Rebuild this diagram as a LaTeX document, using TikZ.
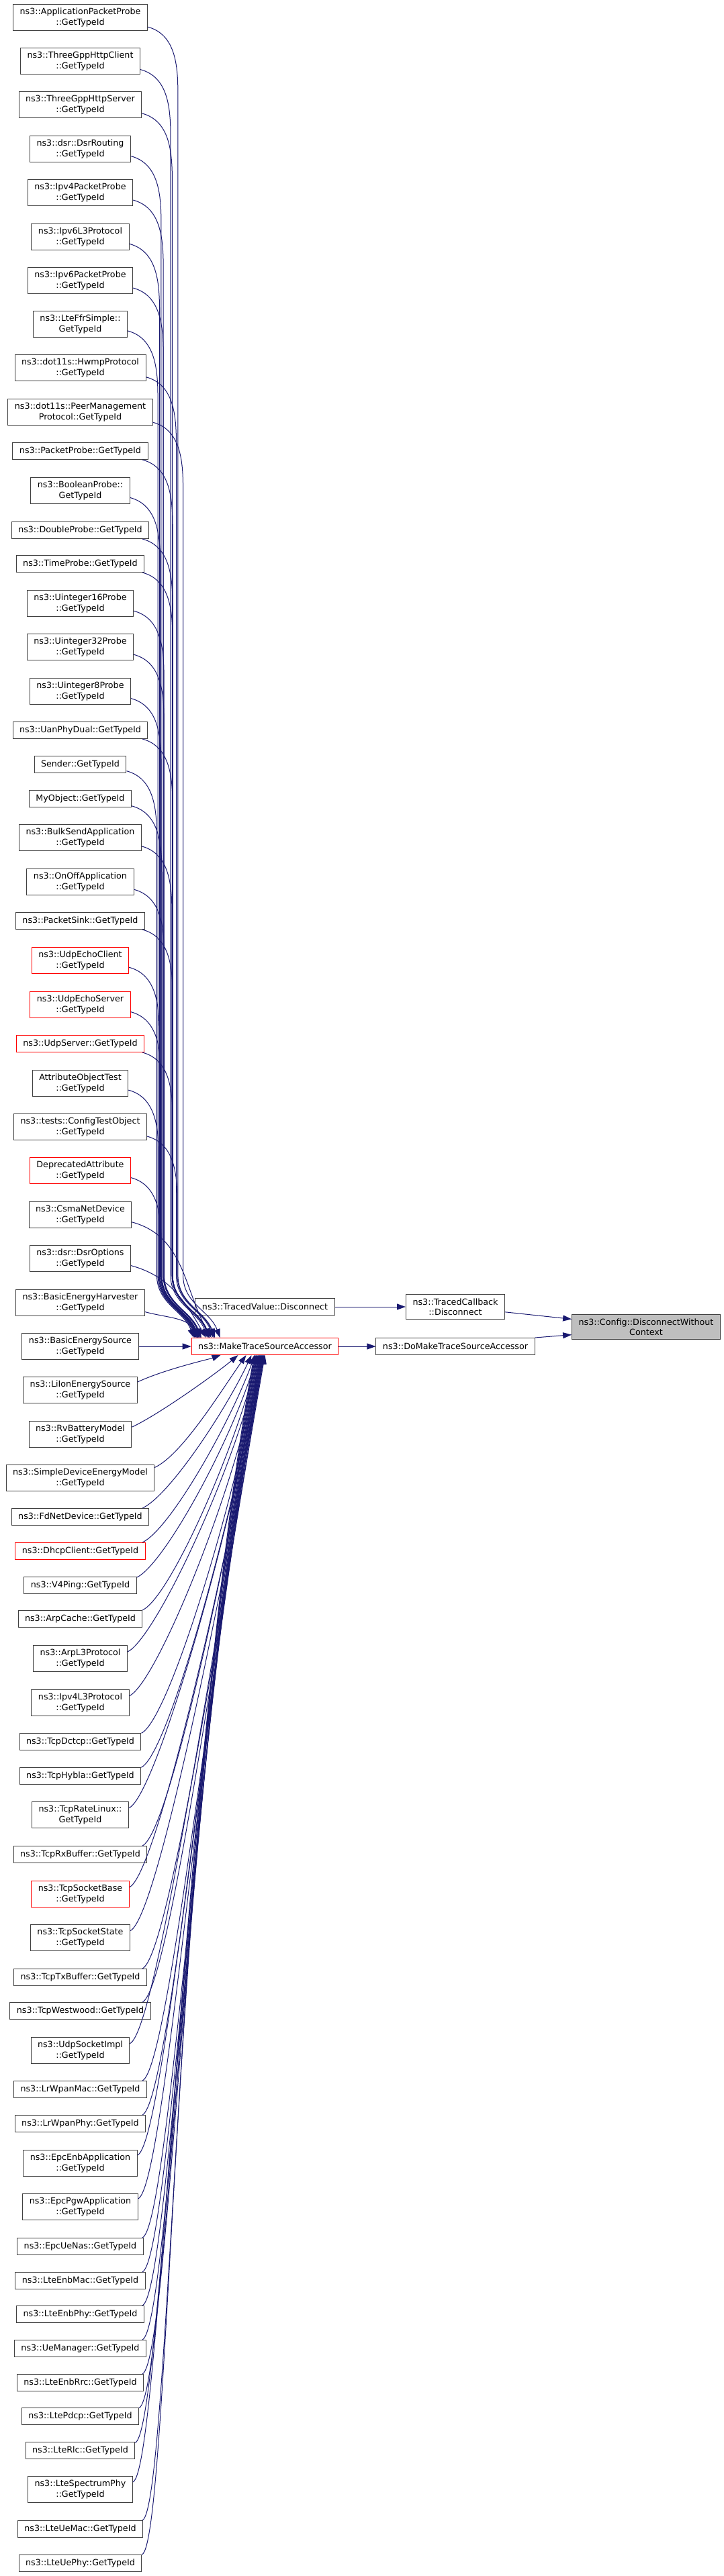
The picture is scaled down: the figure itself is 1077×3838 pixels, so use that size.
\documentclass[tikz,border=0pt]{standalone}
\usepackage{fontspec}
\setmainfont{DejaVu Sans}
\usetikzlibrary{calc,arrows.meta,positioning}
\definecolor{edgeblue}{HTML}{191970}
\definecolor{boxgray}{HTML}{404040}
\definecolor{rootgray}{HTML}{BFBFBF}
\begin{document}
\begin{tikzpicture}[
  x=1pt, y=1pt,
  box/.style={rectangle, draw=boxgray, line width=1pt, fill=white, inner xsep=10pt, inner ysep=6pt, minimum height=25pt, align=center, font=\fontsize{12.7}{15.5}\selectfont},
  redbox/.style={box, draw=red},
  rootbox/.style={box, fill=rootgray},
  call/.style={draw=edgeblue, line width=1pt, -{Triangle[length=13pt,width=9pt]}},
]
  \useasboundingbox (0,0) rectangle (1077,-3838);

  % callers of ns3::MakeTraceSourceAccessor
  \node[box] (appprobe) at (119.5,-26) {ns3::ApplicationPacketProbe\\::GetTypeId};
  \node[box] (httpclient) at (119.5,-91) {ns3::ThreeGppHttpClient\\::GetTypeId};
  \node[box] (httpserver) at (119.5,-156) {ns3::ThreeGppHttpServer\\::GetTypeId};
  \node[box] (dsrrouting) at (119.5,-222) {ns3::dsr::DsrRouting\\::GetTypeId};
  \node[box] (ipv4probe) at (119.5,-287) {ns3::Ipv4PacketProbe\\::GetTypeId};
  \node[box] (ipv6l3) at (119.5,-353) {ns3::Ipv6L3Protocol\\::GetTypeId};
  \node[box] (ipv6probe) at (119.5,-418) {ns3::Ipv6PacketProbe\\::GetTypeId};
  \node[box] (lteffr) at (119.5,-483) {ns3::LteFfrSimple::\\GetTypeId};
  \node[box] (hwmp) at (119.5,-548) {ns3::dot11s::HwmpProtocol\\::GetTypeId};
  \node[box] (peermgmt) at (119.5,-614) {ns3::dot11s::PeerManagement\\Protocol::GetTypeId};
  \node[box] (packetprobe) at (119.5,-672) {ns3::PacketProbe::GetTypeId};
  \node[box] (boolprobe) at (119.5,-731) {ns3::BooleanProbe::\\GetTypeId};
  \node[box] (doubleprobe) at (119.5,-790) {ns3::DoubleProbe::GetTypeId};
  \node[box] (timeprobe) at (119.5,-840) {ns3::TimeProbe::GetTypeId};
  \node[box] (uint16probe) at (119.5,-899) {ns3::Uinteger16Probe\\::GetTypeId};
  \node[box] (uint32probe) at (119.5,-964) {ns3::Uinteger32Probe\\::GetTypeId};
  \node[box] (uint8probe) at (119.5,-1030) {ns3::Uinteger8Probe\\::GetTypeId};
  \node[box] (uanphy) at (119.5,-1088) {ns3::UanPhyDual::GetTypeId};
  \node[box] (sender) at (119.5,-1139) {Sender::GetTypeId};
  \node[box] (myobject) at (119.5,-1190) {MyObject::GetTypeId};
  \node[box] (bulksend) at (119.5,-1248) {ns3::BulkSendApplication\\::GetTypeId};
  \node[box] (onoff) at (119.5,-1314) {ns3::OnOffApplication\\::GetTypeId};
  \node[box] (packetsink) at (119.5,-1372) {ns3::PacketSink::GetTypeId};
  \node[redbox] (echoclient) at (119.5,-1431) {ns3::UdpEchoClient\\::GetTypeId};
  \node[redbox] (echoserver) at (119.5,-1497) {ns3::UdpEchoServer\\::GetTypeId};
  \node[redbox] (udpserver) at (119.5,-1555) {ns3::UdpServer::GetTypeId};
  \node[box] (attrtest) at (119.5,-1614) {AttributeObjectTest\\::GetTypeId};
  \node[box] (configtest) at (119.5,-1679) {ns3::tests::ConfigTestObject\\::GetTypeId};
  \node[redbox] (deprecated) at (119.5,-1744) {DeprecatedAttribute\\::GetTypeId};
  \node[box] (csma) at (119.5,-1810) {ns3::CsmaNetDevice\\::GetTypeId};
  \node[box] (dsroptions) at (119.5,-1875) {ns3::dsr::DsrOptions\\::GetTypeId};
  \node[box] (harvester) at (119.5,-1941) {ns3::BasicEnergyHarvester\\::GetTypeId};
  \node[box] (basicsource) at (119.5,-2006) {ns3::BasicEnergySource\\::GetTypeId};
  \node[box] (liion) at (119.5,-2071) {ns3::LiIonEnergySource\\::GetTypeId};
  \node[box] (rvbattery) at (119.5,-2137) {ns3::RvBatteryModel\\::GetTypeId};
  \node[box] (simpledevice) at (119.5,-2202) {ns3::SimpleDeviceEnergyModel\\::GetTypeId};
  \node[box] (fdnet) at (119.5,-2260) {ns3::FdNetDevice::GetTypeId};
  \node[redbox] (dhcp) at (119.5,-2311) {ns3::DhcpClient::GetTypeId};
  \node[box] (v4ping) at (119.5,-2362) {ns3::V4Ping::GetTypeId};
  \node[box] (arpcache) at (119.5,-2412) {ns3::ArpCache::GetTypeId};
  \node[box] (arpl3) at (119.5,-2471) {ns3::ArpL3Protocol\\::GetTypeId};
  \node[box] (ipv4l3) at (119.5,-2537) {ns3::Ipv4L3Protocol\\::GetTypeId};
  \node[box] (dctcp) at (119.5,-2595) {ns3::TcpDctcp::GetTypeId};
  \node[box] (hybla) at (119.5,-2646) {ns3::TcpHybla::GetTypeId};
  \node[box] (ratelinux) at (119.5,-2704) {ns3::TcpRateLinux::\\GetTypeId};
  \node[box] (rxbuffer) at (119.5,-2763) {ns3::TcpRxBuffer::GetTypeId};
  \node[redbox] (socketbase) at (119.5,-2822) {ns3::TcpSocketBase\\::GetTypeId};
  \node[box] (socketstate) at (119.5,-2887) {ns3::TcpSocketState\\::GetTypeId};
  \node[box] (txbuffer) at (119.5,-2946) {ns3::TcpTxBuffer::GetTypeId};
  \node[box] (westwood) at (119.5,-2996) {ns3::TcpWestwood::GetTypeId};
  \node[box] (udpsocket) at (119.5,-3055) {ns3::UdpSocketImpl\\::GetTypeId};
  \node[box] (lrwpanmac) at (119.5,-3113) {ns3::LrWpanMac::GetTypeId};
  \node[box] (lrwpanphy) at (119.5,-3164) {ns3::LrWpanPhy::GetTypeId};
  \node[box] (epcenb) at (119.5,-3223) {ns3::EpcEnbApplication\\::GetTypeId};
  \node[box] (epcpgw) at (119.5,-3288) {ns3::EpcPgwApplication\\::GetTypeId};
  \node[box] (epcuenas) at (119.5,-3347) {ns3::EpcUeNas::GetTypeId};
  \node[box] (enbmac) at (119.5,-3398) {ns3::LteEnbMac::GetTypeId};
  \node[box] (enbphy) at (119.5,-3448) {ns3::LteEnbPhy::GetTypeId};
  \node[box] (uemanager) at (119.5,-3499) {ns3::UeManager::GetTypeId};
  \node[box] (enbrrc) at (119.5,-3550) {ns3::LteEnbRrc::GetTypeId};
  \node[box] (pdcp) at (119.5,-3600) {ns3::LtePdcp::GetTypeId};
  \node[box] (rlc) at (119.5,-3651) {ns3::LteRlc::GetTypeId};
  \node[box] (spectrum) at (119.5,-3709) {ns3::LteSpectrumPhy\\::GetTypeId};
  \node[box] (uemac) at (119.5,-3768) {ns3::LteUeMac::GetTypeId};
  \node[box] (uephy) at (119.5,-3819) {ns3::LteUePhy::GetTypeId};

  % the call chain
  \node[box] (tvdisc) at (394.5,-1947) {ns3::TracedValue::Disconnect};
  \node[box] (tcdisc) at (678,-1947) {ns3::TracedCallback\\::Disconnect};
  \node[redbox] (mtsa) at (394.5,-2006) {ns3::MakeTraceSourceAccessor};
  \node[box] (domtsa) at (678,-2006) {ns3::DoMakeTraceSourceAccessor};
  \node[rootbox] (root) at (962,-1977) {ns3::Config::DisconnectWithout\\Context};

  \draw[call] (tvdisc) -- (tcdisc);
  \draw[call] (tcdisc.-6) -- (root.174);
  \draw[call] (mtsa) -- (domtsa);
  \draw[call] (domtsa.north east) -- (root.186);
  \draw[call] (basicsource) -- (mtsa);

  \coordinate (bend) at (0,-1900);
  \foreach \c in {appprobe,httpclient,httpserver,dsrrouting,ipv4probe,ipv6l3,ipv6probe,lteffr,hwmp,peermgmt,packetprobe,boolprobe,doubleprobe,timeprobe,uint16probe,uint32probe,uint8probe,uanphy,sender,myobject,bulksend,onoff,packetsink,echoclient,echoserver,udpserver,attrtest,configtest,deprecated}
    \draw[call] (\c.-8) to[out=-15,in=90] ++(45,-100) coordinate (tmp) -- (tmp |- bend) to[out=-90,in=110] ($(tmp |- mtsa.north)+(55,0)$);
  \foreach \c/\dx in {csma/30,dsroptions/22,harvester/12}
    \draw[call] (\c.-8) to[out=-15,in=120] ($(mtsa.north west)+(\dx,0)$);
  \foreach \c/\dx/\ang in {liion/-66/-160,rvbattery/-40/-140,simpledevice/-28/-125,fdnet/-20/-115,dhcp/-15/-110,v4ping/-12/-106,arpcache/-10/-104,arpl3/-8/-102,ipv4l3/-7/-100,dctcp/-6/-100,hybla/-5/-100,ratelinux/-4/-100,rxbuffer/-3/-100,socketbase/-2/-100,socketstate/-1/-100,txbuffer/0/-100,westwood/-1/-100,udpsocket/-2/-100,lrwpanmac/-3/-100,lrwpanphy/-4/-100,epcenb/-5/-100,epcpgw/-6/-100,epcuenas/-7/-100,enbmac/-8/-100,enbphy/-9/-100,uemanager/-10/-100,enbrrc/-11/-100,pdcp/-12/-100,rlc/-13/-100,spectrum/-14/-100,uemac/-15/-100,uephy/-16/-100}
    \draw[call] let \p1=(\c.8), \p2=($(mtsa.south)+(\dx,0)$), \n1={0.39*(\y2-\y1)} in
      (\p1) .. controls +(25:45) and ($(\p2)+(\ang:\n1)$) .. (\p2);
\end{tikzpicture}
\end{document}
